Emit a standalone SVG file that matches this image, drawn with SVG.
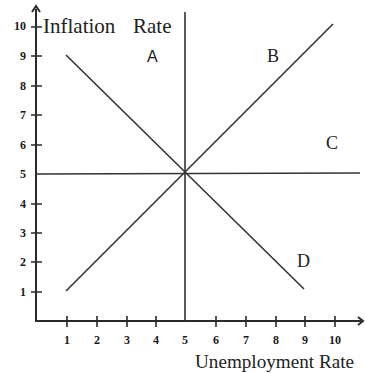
<svg xmlns="http://www.w3.org/2000/svg" width="365" height="373" viewBox="0 0 365 373">
<style>
.ax{stroke:#2a2a2a;stroke-width:2;fill:none}
.ln{stroke:#333;stroke-width:1.6;fill:none}
.tk{stroke:#2a2a2a;stroke-width:1.6}
.num{font-family:"Liberation Serif",serif;font-size:12px;font-weight:bold;fill:#1a1a1a}
.lbl{font-family:"Liberation Serif",serif;fill:#222}
</style>
<rect width="365" height="373" fill="#fff"/>
<g id="axes">
<path class="ax" d="M36,9 V321 H361"/>
<path class="ax" d="M32,12 L36,6 L40,12" stroke-width="1.4"/>
<path class="ax" d="M358,317 L363,321 L358,325" stroke-width="1.2"/>
<g class="tk">
<path d="M31,27H42M31,56H42M31,86H42M31,115H42M31,145H42M31,204H42M31,233H42M31,262H42M31,292H42"/>
<path d="M67,316V327M97,316V327M127,316V327M156,316V327M216,316V327M246,316V327M276,316V327M305,316V327M335,316V327"/>
</g>
<g class="num" text-anchor="end">
<text x="26" y="30">10</text><text x="26" y="60">9</text><text x="26" y="90">8</text><text x="26" y="119">7</text><text x="26" y="149">6</text><text x="26" y="178">5</text><text x="26" y="208">4</text><text x="26" y="237">3</text><text x="26" y="266">2</text><text x="26" y="296">1</text>
</g>
<g class="num" text-anchor="middle">
<text x="67" y="344">1</text><text x="97" y="344">2</text><text x="127" y="344">3</text><text x="156" y="344">4</text><text x="185" y="344">5</text><text x="216" y="344">6</text><text x="246" y="344">7</text><text x="276" y="344">8</text><text x="305" y="344">9</text><text x="335" y="344">10</text>
</g>
<text class="lbl" x="43" y="33" font-size="21">Inflation<tspan x="133">Rate</tspan></text>
<text class="lbl" x="195" y="368" font-size="18" textLength="159" lengthAdjust="spacingAndGlyphs">Unemployment Rate</text>
</g>
<g id="connectors">
<line class="ln" x1="185" y1="12" x2="185" y2="321"/>
<line class="ln" x1="36" y1="174" x2="360" y2="173"/>
<line class="ln" x1="66" y1="291" x2="333" y2="24"/>
<line class="ln" x1="66" y1="55" x2="304" y2="289"/>
</g>
<g id="A"><text x="147" y="62" font-family="Liberation Sans,sans-serif" font-size="16" fill="#1a1a1a">A</text></g>
<g id="B"><text class="lbl" x="267" y="62" font-size="18">B</text></g>
<g id="C"><text class="lbl" x="326" y="149" font-size="18">C</text></g>
<g id="D"><text class="lbl" x="297" y="267" font-size="18">D</text></g>
</svg>
